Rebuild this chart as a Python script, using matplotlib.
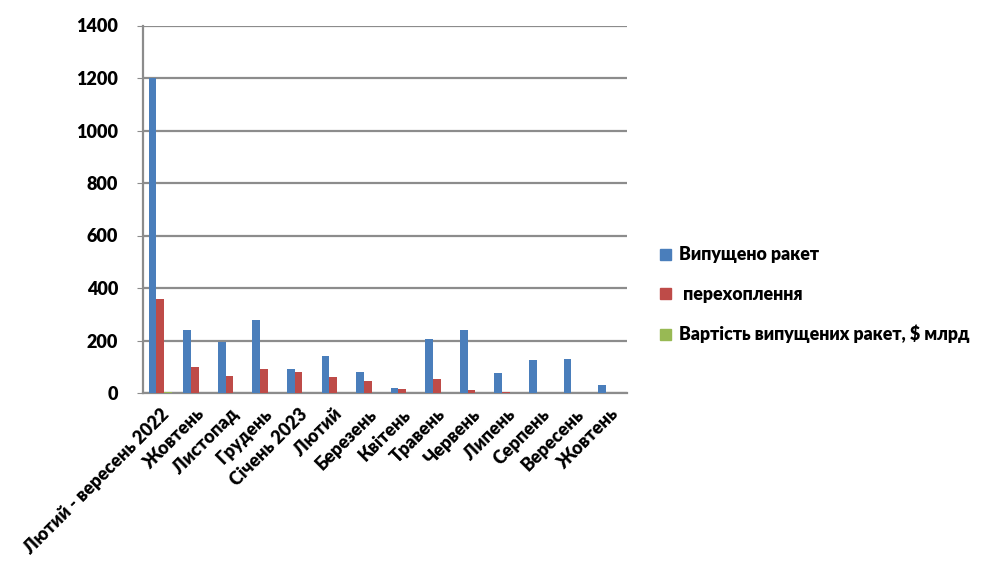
import numpy as np
import matplotlib
matplotlib.use("Agg")
import matplotlib.pyplot as plt
from matplotlib.patches import Patch

plt.rcParams['font.family'] = ['Lato', 'DejaVu Sans']
plt.rcParams['font.weight'] = 'heavy'

categories = ["Лютий - вересень 2022", "Жовтень", "Листопад", "Грудень",
              "Січень 2023", "Лютий", "Березень", "Квітень", "Травень",
              "Червень", "Липень", "Серпень", "Вересень", "Жовтень"]
launched = [1200, 240, 195, 280, 93, 140, 80, 20, 205, 240, 75, 125, 130, 30]
intercepted = [360, 100, 66, 90, 80, 62, 45, 16, 55, 10, 5, 0, 0, 0]
cost_bn = [4, 0, 0, 0, 0, 0, 0, 0, 0, 0, 0, 0, 0, 0]
series_names = ["Випущено ракет", " перехоплення", "Вартість випущених ракет, $ млрд"]
colors = ["#4a7ebb", "#be4b48", "#98b954"]
yticks = [0, 200, 400, 600, 800, 1000, 1200, 1400]

FS = 13

fig = plt.figure(figsize=(9.84, 5.64), dpi=100)
ax = fig.add_axes([143 / 984, 1 - 393 / 564, (627 - 143) / 984, (393 - 25.5) / 564])

x = np.arange(len(categories))
w = 1 / 4.5
for i, (vals, c) in enumerate(zip([launched, intercepted, cost_bn], colors)):
    ax.bar(x + (i - 1) * w, vals, width=w, color=c, zorder=3)

ax.set_xlim(-0.5, len(categories) - 0.5)
ax.set_ylim(0, 1400)
ax.set_yticks(yticks)
ax.set_yticklabels([str(v) for v in yticks], fontsize=FS, fontweight='heavy')
ax.yaxis.grid(True, color="#8c8c8c", linewidth=1.6, zorder=0)
ax.set_xticks(x)
ax.set_xticklabels(categories, rotation=45, ha='right', rotation_mode='anchor',
                   fontsize=FS, fontweight='heavy')
ax.tick_params(axis='x', length=0, pad=9)
ax.tick_params(axis='y', length=4, color="#8c8c8c", pad=14)
for s in ['top', 'right']:
    ax.spines[s].set_visible(False)
for s in ['left', 'bottom']:
    ax.spines[s].set_color("#8c8c8c")
    ax.spines[s].set_linewidth(1.6)

handles = [Patch(color=c) for c in colors]
fig.legend(handles, series_names, loc='center left', bbox_to_anchor=(660 / 984, 0.477),
           frameon=False, handlelength=0.6, handleheight=0.6,
           handletextpad=0.45, labelspacing=1.25, borderpad=0, borderaxespad=0,
           prop={'weight': 'heavy', 'size': 12.8})

fig.savefig("out.png", dpi=100)
